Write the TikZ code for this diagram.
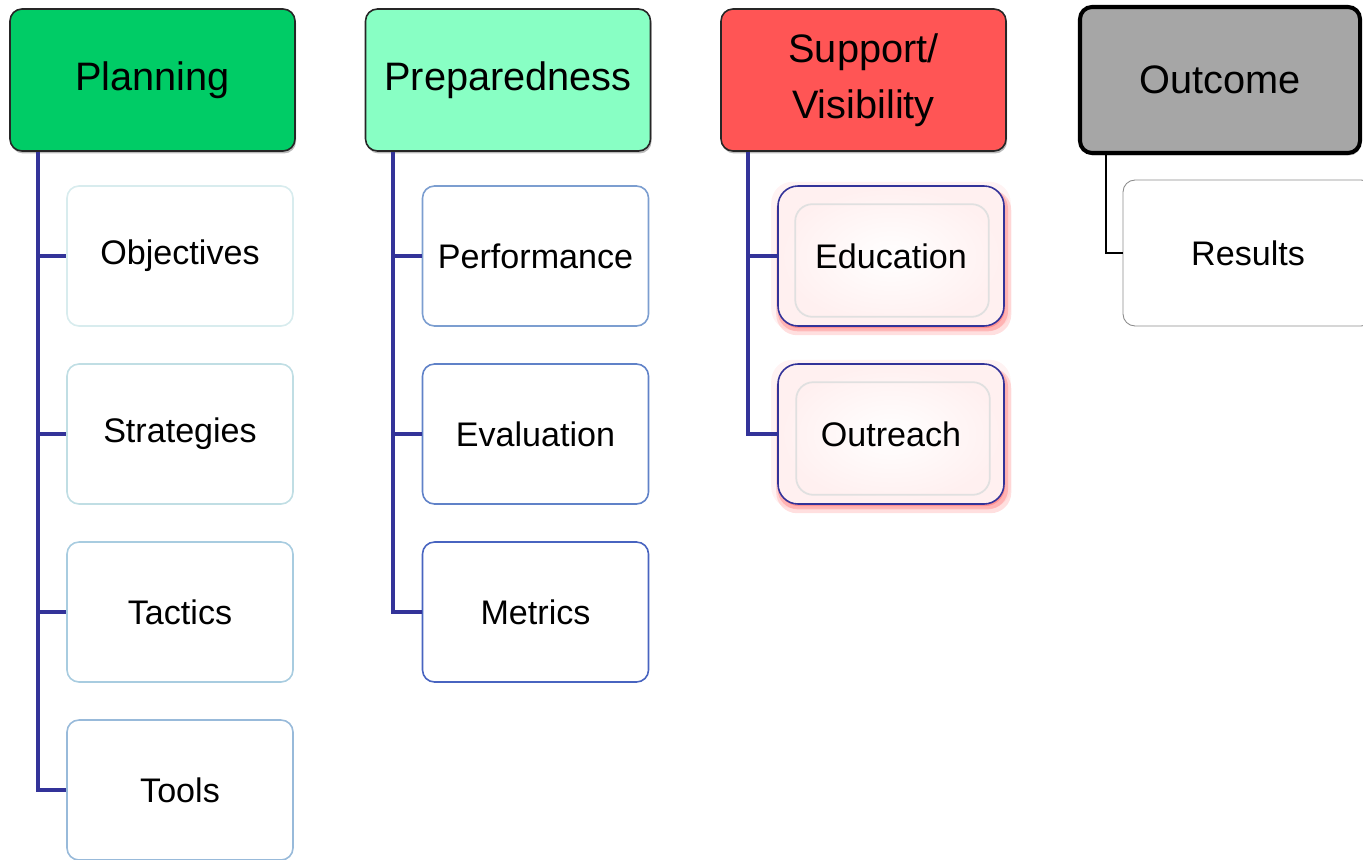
\documentclass[tikz,border=0pt]{standalone}
\usepackage{fontspec}
\setmainfont{Liberation Sans}
\usetikzlibrary{shadows}
\definecolor{spine}{HTML}{333399}
\definecolor{plangreen}{HTML}{00CC66}
\definecolor{prepgreen}{HTML}{88FFC4}
\definecolor{supred}{HTML}{FF5555}
\definecolor{outgray}{HTML}{A6A6A6}
\tikzset{
  head/.style={draw=black!85, line width=0.9pt, rounded corners=0.24cm,
    minimum width=5.7cm, minimum height=2.84cm, align=center,
    font=\fontsize{22.6}{32}\selectfont,
    drop shadow={shadow xshift=0.6pt, shadow yshift=-1.4pt, fill=black!45, opacity=0.6}},
  leaf/.style={draw, fill=white, line width=0.9pt, rounded corners=0.24cm,
    minimum width=4.52cm, minimum height=2.8cm,
    font=\fontsize{19.4}{24}\selectfont},
  glowleaf/.style={leaf, draw=spine, line width=0.9pt, rounded corners=0.4cm,
    inner color=white, outer color=red!6,
    general shadow={shadow scale=1.06, fill=red!40, opacity=0.12},
    general shadow={shadow scale=1.04, shadow xshift=1.5pt, shadow yshift=-3.5pt, fill=red!50, opacity=0.25},
    general shadow={shadow scale=1.02, shadow xshift=1pt, shadow yshift=-2.2pt, fill=red!55, opacity=0.35},
    general shadow={shadow xshift=0.6pt, shadow yshift=-1.2pt, fill=red!60, opacity=0.45}},
  branch/.style={draw=spine, line width=2.7pt}
}
\begin{document}
\begin{tikzpicture}
		%%%%% START %%%%%
		\useasboundingbox (0, 0) rectangle (27.26, -17.18);
		
		% headers
		\node[head, fill=plangreen] (Planning) at (3.05, -1.6) {Planning};
		\node[head, fill=prepgreen] (Preparedness) at (10.16, -1.6) {Preparedness};
		\node[head, fill=supred] (Support) at (17.27, -1.6) {Support/\\Visibility};
		\node[head, fill=outgray, draw=black, line width=2.3pt, minimum width=5.6cm, minimum height=2.92cm] (Outcome) at (24.4, -1.6) {Outcome};
		
		% planning
		\node[leaf, draw={rgb,255:red,216;green,236;blue,238}] (Objectives) at (3.6, -5.12) {Objectives};
		\node[leaf, draw={rgb,255:red,192;green,222;blue,228}] (Strategies) at (3.6, -8.68) {Strategies};
		\node[leaf, draw={rgb,255:red,168;green,204;blue,224}] (Tactics) at (3.6, -12.24) {Tactics};
		\node[leaf, draw={rgb,255:red,152;green,186;blue,218}] (Tools) at (3.6, -15.8) {Tools};
		
		% preparedness
		\node[leaf, draw={rgb,255:red,124;green,158;blue,208}] (Performance) at (10.71, -5.12) {Performance};
		\node[leaf, draw={rgb,255:red,96;green,130;blue,200}] (Evaluation) at (10.71, -8.68) {Evaluation};
		\node[leaf, draw={rgb,255:red,72;green,100;blue,192}] (Metrics) at (10.71, -12.24) {Metrics};
		
		% support
		\node[glowleaf] (Education) at (17.82, -5.12) {Education};
		\node[glowleaf] (Outreach) at (17.82, -8.68) {Outreach};
		\draw[black!12, line width=1pt, rounded corners=0.34cm] ([shift={(0.36, -0.38)}]Education.north west) rectangle ([shift={(-0.32, 0.2)}]Education.south east);
		\draw[black!12, line width=1pt, rounded corners=0.34cm] ([shift={(0.38, -0.38)}]Outreach.north west) rectangle ([shift={(-0.3, 0.2)}]Outreach.south east);
		
		% outcome
		\node[leaf, draw=black!45, line width=0.5pt, minimum width=5cm, minimum height=2.92cm] (Results) at (24.96, -5.06) {Results};
		
		% spines
		\coordinate (plSpine) at (0.76, 0);
		\coordinate (prSpine) at (7.86, 0);
		\coordinate (suSpine) at (14.96, 0);
		\coordinate (ouSpine) at (22.12, 0);
		\foreach \kid in {Objectives, Strategies, Tactics, Tools}
		  \draw[branch] (plSpine |- Planning.south) |- (\kid.west);
		\foreach \kid in {Performance, Evaluation, Metrics}
		  \draw[branch] (prSpine |- Preparedness.south) |- (\kid.west);
		\foreach \kid in {Education, Outreach}
		  \draw[branch] (suSpine |- Support.south) |- (\kid.west);
		\draw[black, line width=0.7pt] (ouSpine |- Outcome.south) |- (Results.west);
		
		%%%%% END %%%%%
	\end{tikzpicture}
\end{document}
